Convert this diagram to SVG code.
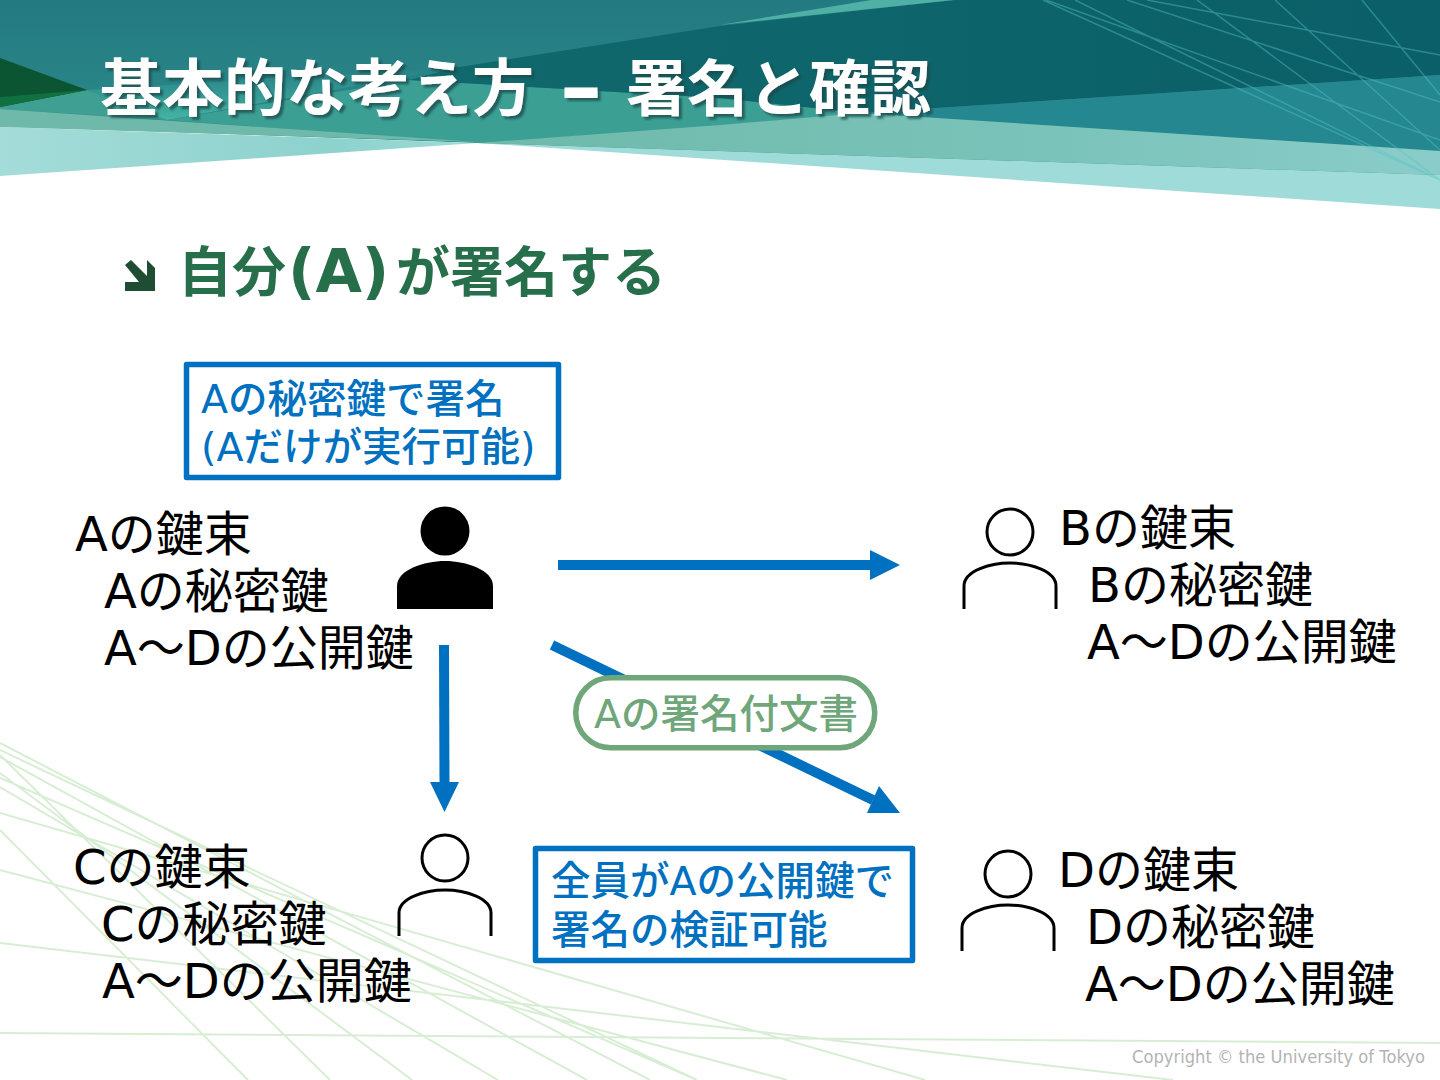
<svg xmlns="http://www.w3.org/2000/svg" width="1440" height="1080" viewBox="0 0 1440 1080">
<style>
.jp{font-family:"DejaVu Sans","Noto Sans CJK JP","Noto Sans",sans-serif}
.cjk{font-family:"Noto Sans CJK JP","Noto Sans",sans-serif}
.k{font-size:48px;fill:#000}
.b{font-size:39.500px;fill:#0070C0;font-weight:500}
.box{fill:#fff;stroke:#0070C0;stroke-width:5.5;stroke-linejoin:round}
.head{fill:#fff;stroke:#000;stroke-width:3}
.body{fill:none;stroke:#000;stroke-width:3}
.ln{stroke:#55c4c6;stroke-opacity:.42;stroke-width:1.5;fill:none}
.gl{stroke:#d8eed4;stroke-width:2;fill:none}
.cn{stroke:#0070C0;stroke-width:10;fill:none}
.hd{fill:#0070C0}
</style>
<defs>
<linearGradient id="base" x1="0" y1="0" x2="0" y2="1"><stop offset="0" stop-color="#237a80"/><stop offset=".6" stop-color="#2a8688"/><stop offset="1" stop-color="#359a92"/></linearGradient>
<linearGradient id="dark" x1="0" y1="0" x2="1" y2="0"><stop offset="0" stop-color="#10696d"/><stop offset="1" stop-color="#0b5f68"/></linearGradient>
<linearGradient id="pale" x1="0" y1="0" x2="1" y2="0"><stop offset="0" stop-color="#a4dcd9"/><stop offset=".7" stop-color="#8dd2cd"/><stop offset="1" stop-color="#9fdbd8"/></linearGradient>
<linearGradient id="mid" x1="0" y1="0" x2="1" y2="0"><stop offset="0" stop-color="#6fb9aa"/><stop offset=".6" stop-color="#7ac3ba"/><stop offset="1" stop-color="#8accc9"/></linearGradient>
<linearGradient id="bright" x1="0" y1="0" x2="0" y2="1"><stop offset="0" stop-color="#3aa49a" stop-opacity="0"/><stop offset="1" stop-color="#45b5a3"/></linearGradient>
<filter id="sh" x="-5%" y="-20%" width="110%" height="140%"><feDropShadow dx="3" dy="3" stdDeviation="0.8" flood-color="#1d4a4a" flood-opacity=".75"/></filter>
</defs>
<rect width="1440" height="1080" fill="#fff"/>
<g id="background">
<g id="bottom-lines">
<path class="gl" d="M0 743L650 1080M0 750L697 1080M0 755L330 1080M0 773L412 1080M0 778L697 1080M0 787L498 1080M0 757L587 1080M0 830L248 1080M0 813L925 1080M0 870L787 1080M0 943L1173 1080M0 1033L1440 1043"/>
</g>
<polygon points="0,0 1440,0 1440,180 477,143 0,126" fill="url(#base)"/>
<polygon points="87,90 167,120 459,67" fill="url(#bright)"/>
<polygon points="0,106 87,90 167,120 0,109" fill="#3f9f92"/>
<polygon points="167,120 409,80 720,98 860,113 720,126 477,143" fill="#3c9f94"/>
<polygon points="459,67 720,26 954,0 1440,0 1440,75 860,113 720,98 409,80" fill="url(#dark)"/>
<polygon points="720,25 871,0 954,0" fill="#4fb0a5"/>
<polygon points="860,113 1440,75 1440,151" fill="#25878f"/>
<polygon points="0,127 0,176 477,143" fill="url(#pale)"/>
<polygon points="0,109 477,142 0,127" fill="#6fb9aa"/>
<polygon points="477,143 720,151 1440,175 1440,209" fill="#9fdbd8"/>
<polygon points="477,143 720,125 860,113 1440,151 1440,175 720,151" fill="url(#mid)"/>
<polygon points="0,58 87,90 0,107" fill="#0b5532"/>
<polygon points="0,97 87,90 0,107" fill="#11703f"/>
<path class="ln" d="M1043 0L1440 180M1075 0L1440 180M1046 0L1440 140M1127 0L1440 102M1147 0L1440 55M1197 0L1440 180M1275 0L1440 150M1362 0L1440 95"/>
</g>
<text id="title" class="cjk" filter="url(#sh)" font-size="62" font-weight="700" fill="#fff" y="111"><tspan x="100">基本的な考え方</tspan><tspan x="560" font-family="DejaVu Sans" font-size="84" y="116">–</tspan><tspan x="626" y="111" font-size="61">署名と確認</tspan></text>
<g id="heading">
<polygon points="131,260 147,276 147,260 155,268 155,291 125,291 125,282 139,282 125,265" fill="#1f4d33"/>
<text class="cjk" font-size="54" font-weight="700" fill="#276E4B" y="292"><tspan x="178">自分</tspan><tspan x="288" font-family="DejaVu Sans" font-size="60">(A)</tspan><tspan x="396">が署名する</tspan></text>
</g>
<g id="connectors">
<line class="cn" x1="558" y1="565" x2="872" y2="565"/>
<polygon class="hd" points="870,550 900,565 870,580"/>
<line class="cn" x1="444" y1="645" x2="444.500" y2="784"/>
<polygon class="hd" points="430,782 459,782 444.500,812"/>
<line class="cn" x1="552" y1="645" x2="873" y2="800"/>
<polygon class="hd" points="879,786 900,813 867,813"/>
</g>
<g id="note-a"><rect class="box" x="186.500" y="364.500" width="372" height="113"/><text class="jp b" x="201" y="413">Aの秘密鍵で署名</text><text class="jp b" x="201" y="461">(Aだけが実行可能)</text></g>
<g id="note-all"><rect class="box" x="535.500" y="848.500" width="377" height="112"/><text class="jp b" x="551" y="895">全員がAの公開鍵で</text><text class="jp b" x="551" y="944">署名の検証可能</text></g>
<g id="label-signed"><rect x="575.750" y="677.750" width="299" height="70" rx="35" fill="#fff" stroke="#6FA67A" stroke-width="5.500"/><text class="jp" font-weight="500" font-size="39.500" fill="#6FA67A" x="594" y="728">Aの署名付文書</text></g>
<g id="person-a"><circle cx="445" cy="531" r="24.500" fill="#000"/><path d="M397 609V586C397 570 424 561 445 561C466 561 493 570 493 586V609Z" fill="#000"/><g class="jp k"><text x="75" y="551">Aの鍵束</text><text x="104" y="608">Aの秘密鍵</text><text x="104" y="665">A～Dの公開鍵</text></g></g>
<g id="person-b"><circle class="head" cx="1010" cy="532" r="23"/><path class="body" d="M964 609V586C964 571 990 563 1010 563C1030 563 1056 571 1056 586V609"/><g class="jp k"><text x="1059" y="545">Bの鍵束</text><text x="1088" y="602">Bの秘密鍵</text><text x="1087" y="659">A～Dの公開鍵</text></g></g>
<g id="person-c"><circle class="head" cx="445" cy="858" r="23"/><path class="body" d="M399 936V913C399 898 425 890 445 890C465 890 491 898 491 913V936"/><g class="jp k"><text x="73" y="884">Cの鍵束</text><text x="101" y="941">Cの秘密鍵</text><text x="102" y="998">A～Dの公開鍵</text></g></g>
<g id="person-d"><circle class="head" cx="1008" cy="874" r="23"/><path class="body" d="M962 951V928C962 913 988 905 1008 905C1028 905 1054 913 1054 928V951"/><g class="jp k"><text x="1058" y="887">Dの鍵束</text><text x="1086" y="944">Dの秘密鍵</text><text x="1085" y="1001">A～Dの公開鍵</text></g></g>
<text id="copyright" x="1132" y="1063" font-family="DejaVu Sans,sans-serif" font-size="17" fill="#b3b3b3" textLength="293" lengthAdjust="spacingAndGlyphs">Copyright © the University of Tokyo</text>
</svg>
